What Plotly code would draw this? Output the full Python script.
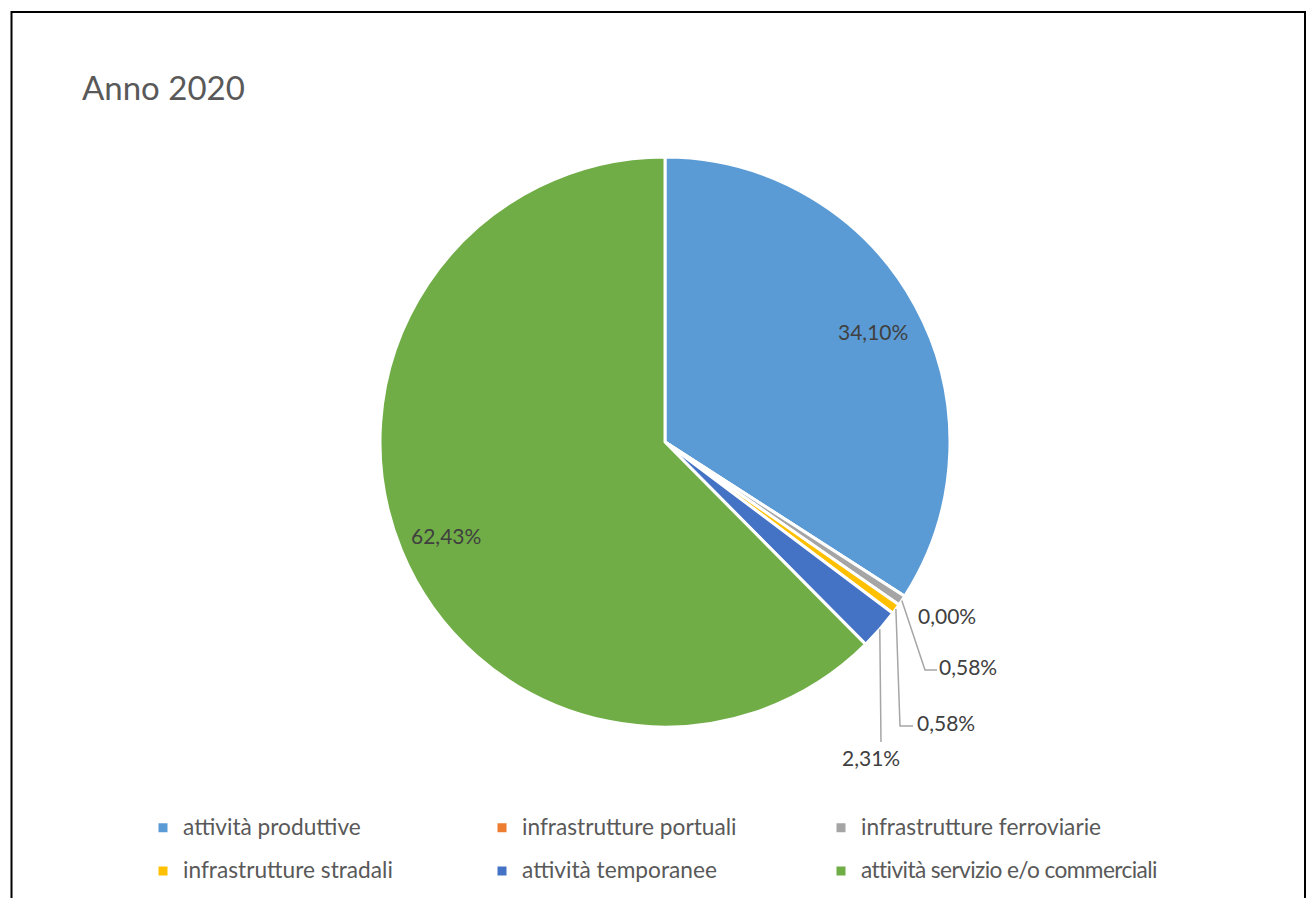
import math
import plotly.graph_objects as go

# Data
categories = [
    "attività produttive",
    "infrastrutture portuali",
    "infrastrutture ferroviarie",
    "infrastrutture stradali",
    "attività temporanee",
    "attività servizio e/o commerciali",
]
shares = [34.10, 0.00, 0.58, 0.58, 2.31, 62.43]
value_labels = ["34,10%", "0,00%", "0,58%", "0,58%", "2,31%", "62,43%"]
colors = ["#5B9BD5", "#ED7D31", "#A5A5A5", "#FFC000", "#4472C4", "#70AD47"]

# Page geometry (pixels)
W, H = 1306, 898
CX, CY, R = 665, 442, 285

LEGEND_TEXT_PX = 22.7
LEGEND_ENTRY_PX = 294
LABEL_FONT = dict(family="Lato, Carlito, sans-serif", size=21, color="#404040")
INSIDE_DY = 3  # small downward nudge for the labels drawn inside the slices


def to_paper(x, y):
    return x / W, 1 - y / H


total = sum(shares)
mids = []
acc = 0.0
for v in shares:
    mids.append((acc + v / 2) / total)
    acc += v


def on_radius(frac, r):
    a = 2 * math.pi * frac
    return CX + r * math.sin(a), CY - r * math.cos(a)


def legend_name(text):
    # long names are tracked in slightly so they fit the fixed entry width
    spacing = "letter-spacing:-0.6px;" if len(text) > 28 else ""
    return (f'<span style="font-size:{LEGEND_TEXT_PX}px;baseline-shift:5px;{spacing}">'
            f"{text}</span>")


legend_names = [legend_name(c) for c in categories]

fig = go.Figure(
    go.Pie(
        labels=legend_names,
        values=shares,
        customdata=categories,
        sort=False,
        direction="clockwise",
        rotation=0,
        marker=dict(colors=colors, line=dict(color="white", width=3)),
        textinfo="none",
        hovertemplate="%{customdata}: %{value:.2f}%<extra></extra>",
        domain=dict(
            x=[(CX - R) / W, (CX + R) / W],
            y=[1 - (CY + R) / H, 1 - (CY - R) / H],
        ),
    )
)

annotations = []
shapes = []

# Labels inside the two large slices
for i in (0, 5):
    x, y = on_radius(mids[i], 0.83 * R)
    px, py = to_paper(x, y + INSIDE_DY)
    annotations.append(dict(x=px, y=py, xref="paper", yref="paper", text=value_labels[i],
                            showarrow=False, font=LABEL_FONT, xanchor="center", yanchor="middle"))

# Outside labels for the thin slices, with leader lines
outside = {
    1: dict(pos=(947, 615), path=None),
    2: dict(pos=(968, 666), path=[(925, 670), (937, 670)]),
    3: dict(pos=(946, 722), path=[(900, 726), (913, 726)]),
    4: dict(pos=(871, 757), path=[(881, 742)]),
}
for i, spec in outside.items():
    px, py = to_paper(*spec["pos"])
    annotations.append(dict(x=px, y=py, xref="paper", yref="paper", text=value_labels[i],
                            showarrow=False, font=LABEL_FONT, xanchor="center", yanchor="middle"))
    if spec["path"]:
        pts = [on_radius(mids[i], R)] + spec["path"]
        pts = [to_paper(x, y) for x, y in pts]
        d = "M " + " L ".join(f"{x:.5f},{y:.5f}" for x, y in pts)
        shapes.append(dict(type="path", path=d, xref="paper", yref="paper",
                           line=dict(color="#A6A6A6", width=1.5)))

# Chart frame
fx0, fy1 = to_paper(11.5, 12)
fx1, _ = to_paper(1305, 0)
shapes.append(dict(type="rect", xref="paper", yref="paper", x0=fx0, x1=fx1, y0=-0.2, y1=fy1,
                   line=dict(color="#000000", width=2), fillcolor="rgba(0,0,0,0)", layer="above"))

tx, ty = to_paper(82, 88)
lx, ly = to_paper(143, 801)

fig.update_layout(
    width=W,
    height=H,
    margin=dict(l=0, r=0, t=0, b=0, autoexpand=False),
    paper_bgcolor="white",
    plot_bgcolor="white",
    title=dict(text="Anno 2020", x=tx, y=ty, xref="paper", yref="paper",
               xanchor="left", yanchor="middle",
               font=dict(family="Lato, Carlito, sans-serif", size=33, color="#595959")),
    legend=dict(orientation="h", x=lx, y=ly, xanchor="left", yanchor="top",
                entrywidth=LEGEND_ENTRY_PX, entrywidthmode="pixels",
                font=dict(family="Lato, Carlito, sans-serif", size=31, color="#595959"),
                bgcolor="rgba(0,0,0,0)"),
    annotations=annotations,
    shapes=shapes,
)

fig.write_html("out.html")
